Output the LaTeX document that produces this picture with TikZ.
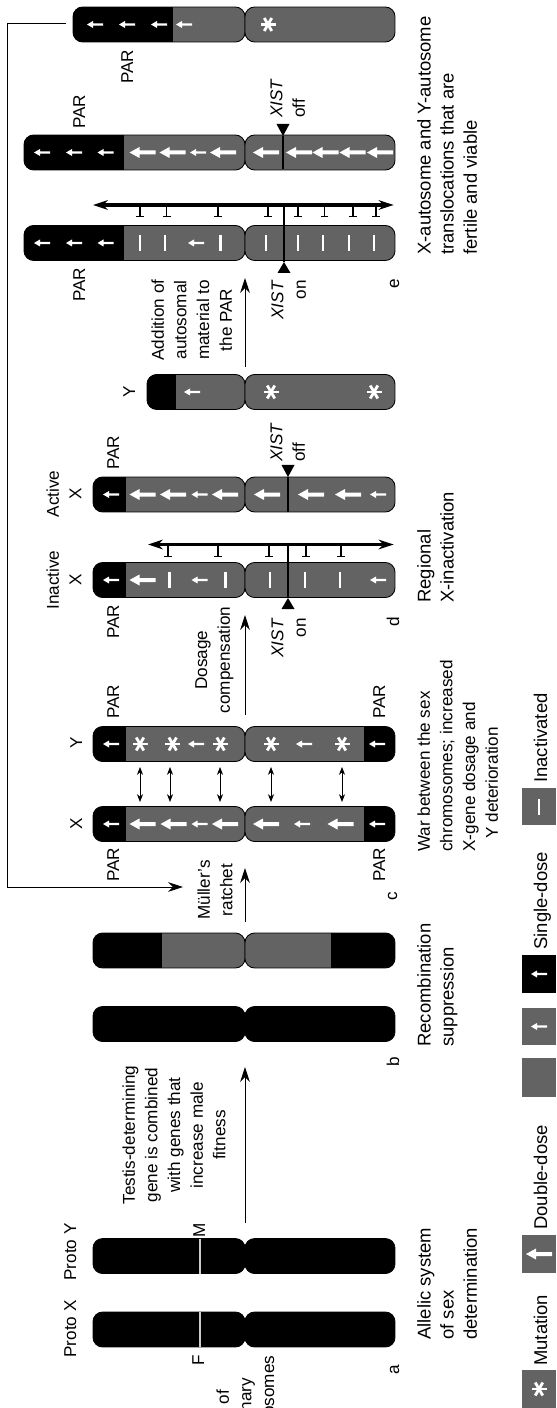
\documentclass[tikz,border=0pt]{standalone}
\usepackage{fontspec}
\setmainfont{Liberation Sans}
\usetikzlibrary{arrows.meta,positioning}
\definecolor{chromgray}{RGB}{99,99,99}
\newcommand{\lblfont}{\fontsize{9.75}{12.9}\selectfont}
\newcommand{\capfont}{\fontsize{10.5}{13.1}\selectfont}
\newcommand{\keyfont}{\fontsize{10.5}{13}\selectfont}

% one chromosome: centre line, upper end, black parts
\newcommand{\chrom}[3]{%
  \foreach \xa/\xb in {#2/245,245/395}{%
    \begin{scope}
      \path[clip, rounded corners=5.5pt] (\xa,#1-17.5) rectangle (\xb,#1+17.5);
      \fill[chromgray] (\xa,#1-17.5) rectangle (\xb,#1+17.5);
      \foreach \ba/\bb in {#3} \fill (\ba,#1-17.5) rectangle (\bb,#1+17.5);
    \end{scope}
    \draw[rounded corners=5.5pt, line width=0.5pt] (\xa,#1-17.5) rectangle (\xb,#1+17.5);
  }}
% gene marks: B double dose, S single dose, M mutation, I inactivated
\newcommand{\geneB}[2]{\fill[white] (#1-13,#2) -- (#1-3,#2-5.5) -- (#1-3,#2-2) -- (#1+13,#2-2) -- (#1+13,#2+2) -- (#1-3,#2+2) -- (#1-3,#2+5.5) -- cycle;}
\newcommand{\geneS}[2]{\fill[white] (#1-8,#2) -- (#1-2,#2-3.5) -- (#1-2,#2-1.2) -- (#1+8,#2-1.2) -- (#1+8,#2+1.2) -- (#1-2,#2+1.2) -- (#1-2,#2+3.5) -- cycle;}
\newcommand{\geneM}[2]{\foreach \ang in {0,60,120}{\draw[white, line width=1.6pt] (#1,#2) ++(\ang:7.5) -- ++(\ang+180:15);}}
\newcommand{\geneI}[2]{\fill[white] (#1-1.3,#2-8) rectangle (#1+1.3,#2+8);}
\newcommand{\genes}[2]{\foreach \t/\x in {#2}{\csname gene\t\endcsname{\x}{#1}}}

\begin{document}
\begin{tikzpicture}[x=0.02cm, y=-0.02cm,
    lbl/.style={rotate=90, inner sep=0pt, font=\lblfont},
    caption/.style={rotate=90, inner sep=0pt, font=\capfont, anchor=north west, align=left},
    key/.style={rotate=90, inner sep=0pt, font=\keyfont, anchor=base west},
    stage/.style={-{Stealth[length=8.5pt,width=5.5pt]}, line width=0.5pt},
    span/.style={{Stealth[length=8.5pt,width=5.5pt]}-{Stealth[length=8.5pt,width=5.5pt]}, line width=1.9pt},
    swap/.style={{Stealth[length=4.5pt,width=3.5pt]}-{Stealth[length=4.5pt,width=3.5pt]}, line width=0.5pt},
    silence/.style={-{Bar[width=4.5pt]}, line width=0.6pt},
    xist/.style={line width=0.6pt}
]
\useasboundingbox (0,0) rectangle (556,1408);

% a: proto sex chromosomes
\chrom{1329.5}{93}{93/395}
\chrom{1256}{93}{93/395}
\draw[gray!40, line width=0.6pt] (200,1312) -- (200,1347);
\draw[gray!40, line width=0.6pt] (200,1238.5) -- (200,1273.5);
\node[lbl, anchor=base] (protox) at (76,1329) {Proto X};
\node[lbl, anchor=base] (protoy) at (76,1252) {Proto Y};
\node[lbl, anchor=base] (f) at (204,1360) {F};
\node[lbl, anchor=base] (m) at (205,1230) {M};
\node[lbl, anchor=base] (la) at (399,1370) {a};
\node[lbl, anchor=north west, align=left] (pair) at (216,1440) {Pair of\\ordinary\\autosomes};
\node[caption] (allelic) at (417,1340) {Allelic system\\of sex\\determination};
\node[lbl, anchor=north, align=center] (testis) at (122,1135) {Testis-determining\\gene is combined\\with genes that\\increase male\\fitness};
\coordinate (ab0) at (245,1223);
\coordinate (ab1) at (245,1067);
\draw[stage] (ab0) -- (ab1);

% b: recombination suppression
\chrom{1024}{93}{93/395}
\chrom{950.5}{93}{93/162,330.5/395}
\node[lbl, anchor=base] (lb) at (399,1062) {b};
\node[caption] (recomb) at (417,1047) {Recombination\\suppression};
\node[lbl, anchor=north, align=center] (muller) at (197,890) {Müller’s\\ratchet};
\coordinate (bc0) at (245,922);
\coordinate (bc1) at (245,868);
\draw[stage] (bc0) -- (bc1);

% c: war between X and Y
\chrom{824}{93}{93/126,363.5/395}
\chrom{744}{93}{93/126,363.5/395}
\genes{824}{S/111,B/142.5,B/173.5,S/199.5,B/225,B/266,S/302,B/340.5,S/377}
\genes{744}{S/111,M/140,M/172.7,S/196,M/220.6,M/271,S/304,M/342,S/377}
\foreach \x in {140,170,220,271,342}{
  \coordinate (sy) at (\x,767);
  \coordinate (sx) at (\x,802);
  \draw[swap] (sy) -- (sx);
}
\node[lbl, anchor=base] (cx) at (82,824) {X};
\node[lbl, anchor=base] (cy) at (82,743) {Y};
\node[lbl, anchor=base] (parcx1) at (119,865) {PAR};
\node[lbl, anchor=base] (parcx2) at (385,865) {PAR};
\node[lbl, anchor=base] (parcy1) at (119,702) {PAR};
\node[lbl, anchor=base] (parcy2) at (385,702) {PAR};
\node[lbl, anchor=base] (lc) at (397,896) {c};
\node[lbl, anchor=north west, align=left] (war) at (417,852) {War between the sex\\chromosomes; increased\\X-gene dosage and\\\hspace*{0.26cm}Y deterioration};
\node[lbl, anchor=north, align=center] (dosage) at (195,660) {Dosage\\compensation};
\coordinate (cd0) at (245,715);
\coordinate (cd1) at (245,615);
\draw[stage] (cd0) -- (cd1);

% d: regional X-inactivation
\chrom{580}{93}{93/126}
\chrom{494.5}{93}{93/126}
\genes{580}{S/111,B/142.5,I/169.5,S/199.5,I/225.5,I/270,I/305,I/340,S/378}
\genes{494.5}{S/111,B/142.5,B/173,S/199.5,B/225,B/267,B/311,B/348,S/378}
\coordinate (dl) at (148,544.5);
\coordinate (dr) at (393.6,544.5);
\draw[span] (dl) -- (dr);
\foreach \x in {168,218,269,306,341} \draw[silence] (\x,544.5) -- (\x,557);
\coordinate (dxon) at (288,598);
\draw[xist] (288,544.5) -- (dxon);
\fill (dxon) -- ++(-6.5,11) -- ++(13,0) -- cycle;
\coordinate (dxoff) at (288,477);
\draw[xist] (dxoff) -- (288,512);
\fill (dxoff) -- ++(-6.5,-12) -- ++(13,0) -- cycle;
\node[lbl, anchor=north, align=center] (inact) at (46,580) {Inactive\\X};
\node[lbl, anchor=north, align=center] (act) at (46,494) {Active\\X};
\node[lbl, anchor=base] (pardi) at (119,622) {PAR};
\node[lbl, anchor=base] (parda) at (119,453) {PAR};
\node[lbl, anchor=north east, align=right] (xistdon) at (271,618) {\textit{XIST}\\on};
\node[lbl, anchor=north west, align=left] (xistdoff) at (270,462) {\textit{XIST}\\off};
\node[lbl, anchor=base] (ld) at (399,622) {d};
\node[caption] (regional) at (417,603) {Regional\\X-inactivation};

% e: translocations onto the PAR
\chrom{392}{147}{147/175.5}
\genes{392}{S/192,M/271,M/374}
\node[lbl, anchor=base] (ey) at (135,392) {Y};
\node[lbl, anchor=north, align=center] (addition) at (151,320) {Addition of\\autosomal\\material to\\the PAR};
\coordinate (de0) at (245,367);
\coordinate (de1) at (245,278);
\draw[stage] (de0) -- (de1);
\chrom{243}{24}{24/124}
\chrom{152.5}{24}{24/124}
\genes{243}{S/42,S/74,S/105.5,I/140,I/165,S/196,I/220.6,I/266,I/298,I/323,I/349,I/374}
\genes{152.5}{S/42,S/74,S/105.5,B/142.5,B/172.5,S/198,B/223,B/266,B/299,B/325.5,B/352.5,B/380}
\coordinate (el) at (93,205);
\coordinate (er) at (393.6,205);
\draw[span] (el) -- (er);
\foreach \x in {140,166.7,218,268,298,324.5,353,376} \draw[silence] (\x,205) -- (\x,217.5);
\coordinate (exon) at (284,262);
\draw[xist] (284,205) -- (exon);
\fill (exon) -- ++(-6.5,11) -- ++(13,0) -- cycle;
\coordinate (exoff) at (283,136);
\draw[xist] (exoff) -- (283,169);
\fill (exoff) -- ++(-6.5,-12) -- ++(13,0) -- cycle;
\node[lbl, anchor=base] (pare1) at (85,285) {PAR};
\node[lbl, anchor=base] (pare2) at (85,112) {PAR};
\node[lbl, anchor=north east, align=right] (xisteon) at (271,280) {\textit{XIST}\\on};
\node[lbl, anchor=north west, align=left] (xisteoff) at (270,118) {\textit{XIST}\\off};
\node[lbl, anchor=base] (le) at (399,284) {e};
\node[caption] (transloc) at (417,255) {X-autosome and Y-autosome\\translocations that are\\fertile and viable};

% new Y goes back to the ratchet
\chrom{24.5}{73}{73/173}
\genes{24.5}{S/95,S/127,S/159,S/184,M/268}
\node[lbl, anchor=base] (partop) at (133,67) {PAR};
\coordinate (fbs) at (66,23.5);
\coordinate (fbe) at (183,887);
\draw[stage] (fbs) -- ++(-58.5,0) |- (fbe);

% key
\fill[chromgray] (522,1370) rectangle (556,1408);
\geneM{539}{1389}
\fill[chromgray] (522,1235) rectangle (556,1273);
\geneB{539}{1254}
\fill[chromgray] (522,1058) rectangle (556,1097);
\fill[chromgray] (522,1008) rectangle (556,1045);
\geneS{539}{1026.5}
\fill (522,955) rectangle (556,993);
\geneS{539}{974}
\fill[chromgray] (522,788) rectangle (556,825);
\geneI{539}{806.5}
\node[key] (kmut) at (547,1366) {Mutation};
\node[key] (kdouble) at (547,1230) {Double-dose};
\node[key] (ksingle) at (547,950) {Single-dose};
\node[key] (kinact) at (547,783) {Inactivated};

\end{tikzpicture}
\end{document}
